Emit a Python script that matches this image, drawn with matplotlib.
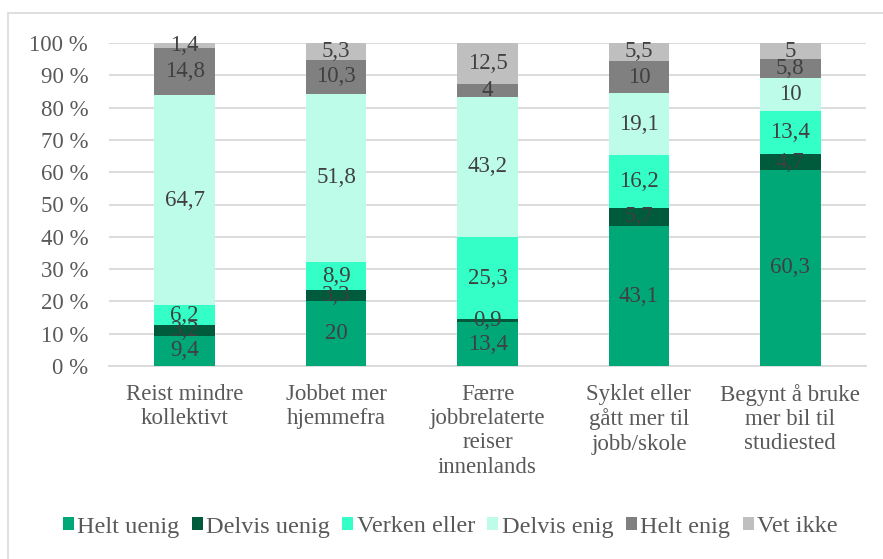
import matplotlib.pyplot as plt
import numpy as np
from matplotlib.patches import Rectangle

# DATA
categories = ["Reist mindre\nkollektivt", "Jobbet mer\nhjemmefra", "Færre\njobbrelaterte\nreiser\ninnenlands",
              "Syklet eller\ngått mer til\njobb/skole", "Begynt å bruke\nmer bil til\nstudiested"]
series = ["Helt uenig", "Delvis uenig", "Verken eller", "Delvis enig", "Helt enig", "Vet ikke"]
helt_uenig = [9.4, 20, 13.4, 43.1, 60.3]
delvis_uenig = [3.2, 3.3, 0.9, 5.7, 4.7]
verken_eller = [6.2, 8.9, 25.3, 16.2, 13.4]
delvis_enig = [64.7, 51.8, 43.2, 19.1, 10]
helt_enig = [14.8, 10.3, 4, 10, 5.8]
vet_ikke = [1.4, 5.3, 12.5, 5.5, 5]
yticks = [0, 10, 20, 30, 40, 50, 60, 70, 80, 90, 100]

colors = ["#00A878", "#005A3C", "#33FFC6", "#BDFCE8", "#808080", "#BFBFBF"]
txt = "#595959"

plt.rcParams['font.family'] = ['Liberation Serif', 'DejaVu Serif']

fig = plt.figure(figsize=(8.83, 5.59), dpi=100)
fig.patches.append(Rectangle((8 / 883, -0.05), 1.0, 1 - 13 / 559 + 0.05, transform=fig.transFigure,
                             fill=False, edgecolor="#D9D9D9", linewidth=1.2))
ax = fig.add_axes([109 / 883, 1 - 366 / 559, 757 / 883, 323 / 559])

data = np.array([helt_uenig, delvis_uenig, verken_eller, delvis_enig, helt_enig, vet_ikke])
totals = data.sum(axis=0)
pct = data / totals * 100
x = np.arange(len(categories))
bottom = np.zeros(len(categories))
for i in range(len(series)):
    ax.bar(x, pct[i], 0.4, bottom=bottom, color=colors[i], label=series[i], zorder=3)
    for j in range(len(categories)):
        lab = ("%g" % data[i, j]).replace(".", ",")
        ax.text(x[j], bottom[j] + pct[i, j] / 2, lab, ha="center", va="center",
                fontsize=16.5, color="#404040", zorder=4)
    bottom += pct[i]

ax.set_xlim(-0.5, len(categories) - 0.5)
ax.set_ylim(0, 100)
ax.set_yticks(yticks)
ax.set_yticklabels(["%d %%" % t for t in yticks])
ax.set_xticks(x)
ax.set_xticklabels(categories, linespacing=1.2)
ax.tick_params(axis="both", length=0, labelsize=16.5, colors=txt)
ax.tick_params(axis="y", pad=15)
ax.tick_params(axis="x", pad=13)
ax.grid(axis="y", color="#D9D9D9", linewidth=1.3, zorder=0)
for s in ["top", "right", "left"]:
    ax.spines[s].set_visible(False)
ax.spines["bottom"].set_color("#D9D9D9")
ax.spines["bottom"].set_linewidth(1.3)

leg = fig.legend(loc="center", bbox_to_anchor=(0.51, 1 - 527 / 559), ncol=6, frameon=False,
                 fontsize=17.5, handlelength=0.45, handleheight=0.45, handletextpad=0.15,
                 columnspacing=0.5, labelcolor=txt)

fig.savefig("out.png", dpi=100)
